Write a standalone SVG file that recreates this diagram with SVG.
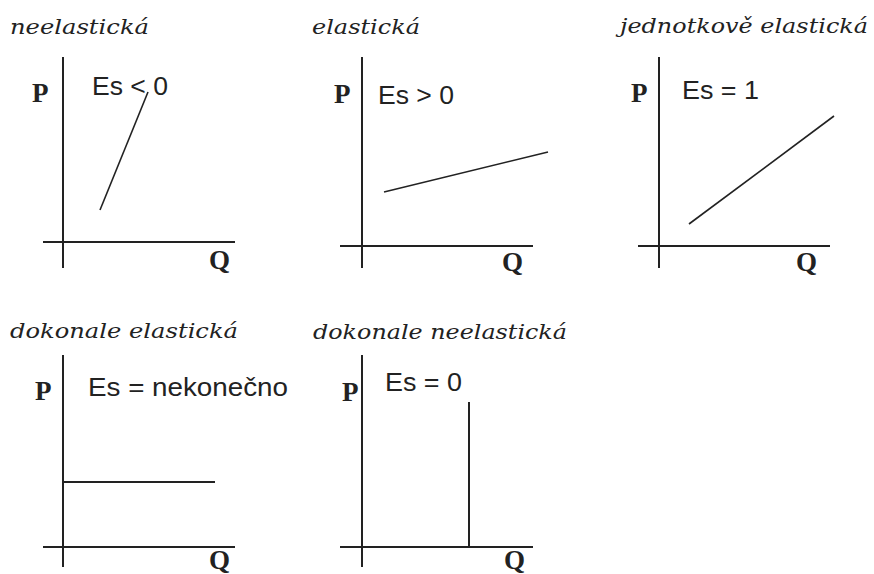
<svg xmlns="http://www.w3.org/2000/svg" width="874" height="574" viewBox="0 0 874 574">
<style>
.ax{stroke:#222;stroke-width:2;fill:none;stroke-linecap:butt}
.cv{stroke:#222;stroke-width:1.6;fill:none}
.t{font-family:"DejaVu Serif","Liberation Serif",serif;font-style:italic;font-size:21px;fill:#222}
.pq{font-family:"Liberation Serif","DejaVu Serif",serif;font-weight:bold;font-size:27px;fill:#222}
.es{font-family:"Liberation Sans",Arial,sans-serif;font-size:25px;fill:#222}
</style>
<rect width="874" height="574" fill="#fff"/>
<g id="panel-neelasticka">
<text class="t" x="10" y="34" textLength="139" lengthAdjust="spacingAndGlyphs">neelastická</text>
<line class="ax" x1="63" y1="57" x2="63" y2="268"/>
<line class="ax" x1="43" y1="242" x2="235" y2="242"/>
<text class="pq" x="32" y="102">P</text>
<text class="pq" x="209" y="269">Q</text>
<text class="es" x="92" y="95" textLength="76" lengthAdjust="spacingAndGlyphs">Es &lt; 0</text>
<line class="cv" x1="100" y1="210" x2="148" y2="92"/>
</g>
<g id="panel-elasticka">
<text class="t" x="312" y="34" textLength="108" lengthAdjust="spacingAndGlyphs">elastická</text>
<line class="ax" x1="362" y1="57" x2="362" y2="268"/>
<line class="ax" x1="340" y1="246" x2="533" y2="246"/>
<text class="pq" x="334" y="103">P</text>
<text class="pq" x="502" y="271">Q</text>
<text class="es" x="378" y="104" textLength="76" lengthAdjust="spacingAndGlyphs">Es &gt; 0</text>
<line class="cv" x1="384" y1="192" x2="548" y2="152"/>
</g>
<g id="panel-jednotkove">
<text class="t" x="620" y="33" textLength="248" lengthAdjust="spacingAndGlyphs">jednotkově elastická</text>
<line class="ax" x1="659" y1="57" x2="659" y2="268"/>
<line class="ax" x1="638" y1="246" x2="830" y2="246"/>
<text class="pq" x="631" y="102">P</text>
<text class="pq" x="796" y="271">Q</text>
<text class="es" x="682" y="99" textLength="77" lengthAdjust="spacingAndGlyphs">Es = 1</text>
<line class="cv" x1="689" y1="224" x2="834" y2="116"/>
</g>
<g id="panel-dokonale-elasticka">
<text class="t" x="10" y="338" textLength="228" lengthAdjust="spacingAndGlyphs">dokonale elastická</text>
<line class="ax" x1="63" y1="355" x2="63" y2="567"/>
<line class="ax" x1="43" y1="547" x2="235" y2="547"/>
<text class="pq" x="35" y="400">P</text>
<text class="pq" x="209" y="569">Q</text>
<text class="es" x="88" y="396" textLength="200" lengthAdjust="spacingAndGlyphs">Es = nekonečno</text>
<line class="ax" x1="63" y1="482" x2="215" y2="482"/>
</g>
<g id="panel-dokonale-neelasticka">
<text class="t" x="313" y="339" textLength="254" lengthAdjust="spacingAndGlyphs">dokonale neelastická</text>
<line class="ax" x1="362" y1="355" x2="362" y2="567"/>
<line class="ax" x1="340" y1="547" x2="533" y2="547"/>
<text class="pq" x="342" y="401">P</text>
<text class="pq" x="504" y="569">Q</text>
<text class="es" x="385" y="391" textLength="77" lengthAdjust="spacingAndGlyphs">Es = 0</text>
<line class="ax" x1="469" y1="402" x2="469" y2="547"/>
</g>
</svg>
